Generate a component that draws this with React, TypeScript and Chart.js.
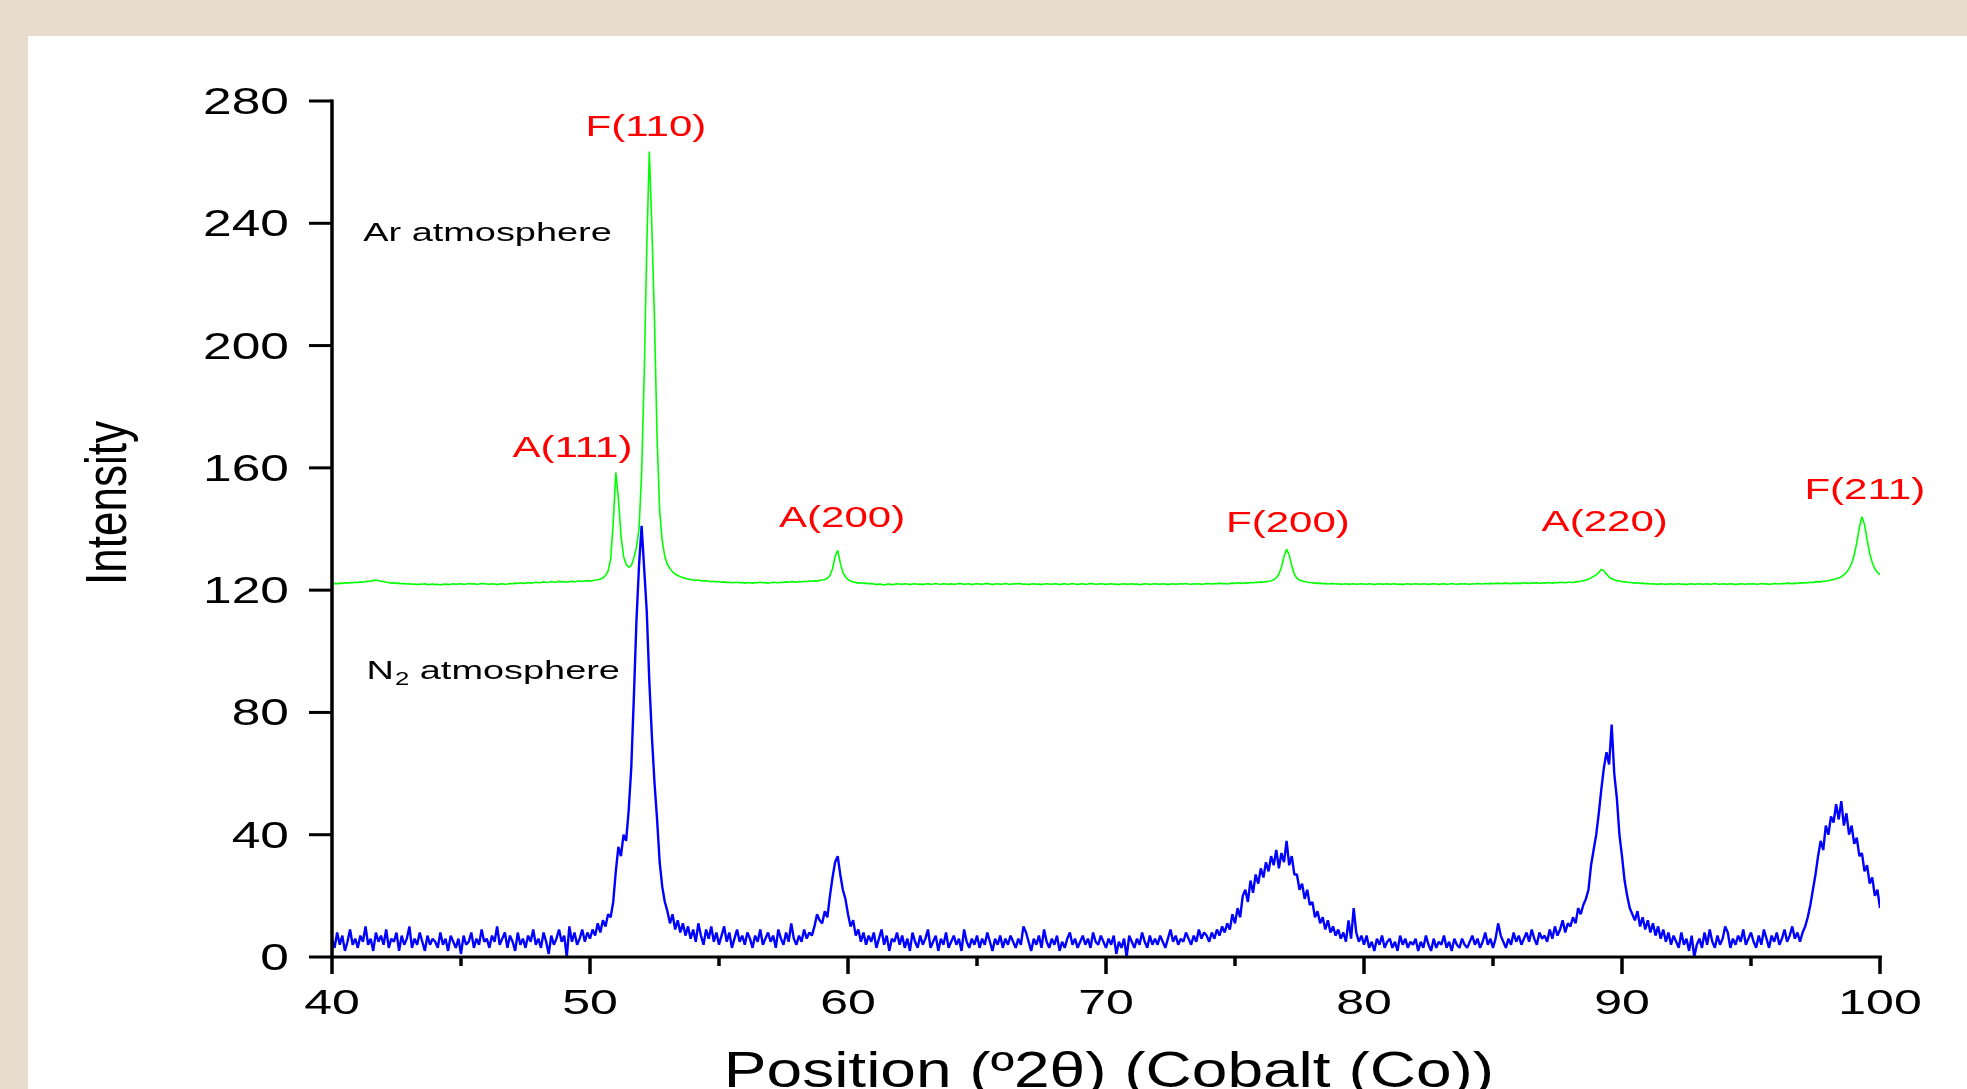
import React, { useEffect, useRef } from 'react';
import { Chart, registerables } from 'chart.js';

Chart.register(...registerables);

// ---- axes ----
const X_MIN = 40;
const X_MAX = 100;
const X_STEP = 0.1;
const Y_MIN = 0;
const Y_MAX = 280;
const xMajorTicks = [40, 50, 60, 70, 80, 90, 100];
const xMinorTicks = [45, 55, 65, 75, 85, 95];
const yTicks = [0, 40, 80, 120, 160, 200, 240, 280];
const xTitle = 'Position (º2θ) (Cobalt (Co))';
const yTitle = 'Intensity';

// ---- Ar atmosphere (green), 2θ = 40.0 ... 100.0, step 0.1 ----
const arSeg40 = [
  122.0, 122.2, 122.1, 122.3, 122.2, 122.4, 122.3, 122.5, 122.4, 122.6,
  122.5, 122.7, 122.6, 122.8, 122.9, 123.0, 123.1, 123.3, 123.1, 122.9,
  122.8, 122.6, 122.5, 122.3, 122.4, 122.2, 122.3, 122.1, 122.2, 122.0,
  122.1, 121.9, 122.0, 121.8, 122.0, 121.9, 122.1, 121.8, 121.9, 122.0,
  121.8, 121.9, 121.7, 121.9, 122.0, 121.8, 121.9, 122.1, 121.9, 122.0,
  122.1, 121.9, 122.0, 122.2, 122.0, 122.1, 121.9, 122.0, 122.2, 122.1,
  122.0, 121.9, 122.1, 122.0, 121.8, 122.0, 122.1, 121.9, 122.0, 122.2,
  122.1, 122.3, 122.2, 122.4, 122.2, 122.3, 122.5, 122.3, 122.4, 122.6,
  122.4, 122.5, 122.7, 122.5, 122.6, 122.8, 122.6, 122.7, 122.9, 122.7,
  122.8, 122.6, 122.8, 122.9, 122.7, 122.9, 123.0, 122.8, 123.0, 123.1,
];
const arSeg50 = [
  123.0, 123.1, 123.3, 123.4, 123.6, 124.0, 124.8, 126.2, 130.0, 142.0,
  158.5, 150.0, 138.0, 131.0, 128.5, 127.5, 128.0, 130.5, 134.0, 140.0,
  158.0, 190.0, 232.0, 263.5, 238.0, 208.0, 170.0, 146.0, 136.0, 131.0,
  128.5, 127.0, 126.0, 125.3, 124.8, 124.4, 124.1, 123.9, 123.6, 123.5,
  123.3, 123.2, 123.3, 123.1, 123.0, 123.1, 122.9, 122.8, 122.9, 122.7,
  122.8, 122.6, 122.7, 122.5, 122.6, 122.4, 122.5, 122.6, 122.4, 122.5,
  122.3, 122.5, 122.4, 122.3, 122.5, 122.4, 122.6, 122.4, 122.5, 122.3,
  122.4, 122.6, 122.5, 122.4, 122.6, 122.5, 122.7, 122.6, 122.8, 122.7,
  122.6, 122.8, 122.7, 122.9, 122.8, 123.0, 122.9, 123.1, 123.0, 123.2,
  123.3, 123.5, 123.9, 124.8, 127.0, 131.0, 133.0, 129.0, 125.8, 124.3,
];
const arSeg60 = [
  123.5, 123.0, 122.7, 122.5, 122.3, 122.4, 122.2, 122.3, 122.1, 122.2,
  122.0, 121.8, 122.0, 121.9, 121.7, 121.9, 122.0, 121.8, 121.9, 122.1,
  122.0, 121.9, 122.1, 122.0, 121.8, 122.0, 122.1, 121.9, 122.0, 121.8,
  122.0, 122.1, 121.9, 122.0, 122.2, 122.0, 121.9, 122.1, 122.0, 121.9,
  122.1, 121.9, 122.0, 122.2, 122.1, 121.9, 122.0, 122.1, 121.8, 122.0,
  122.1, 122.0, 121.9, 122.1, 122.2, 122.0, 121.8, 122.0, 122.1, 121.9,
  122.0, 122.2, 122.0, 121.9, 122.1, 122.0, 122.2, 122.1, 121.9, 122.0,
  121.8, 122.0, 122.1, 121.9, 122.0, 121.8, 122.0, 122.1, 122.0, 121.9,
  122.1, 122.0, 121.8, 122.0, 122.1, 121.9, 122.0, 122.2, 122.0, 121.9,
  122.0, 122.1, 121.9, 122.0, 122.2, 122.1, 121.9, 122.0, 122.1, 122.0,
];
const arSeg70 = [
  121.9, 122.0, 122.1, 121.9, 122.0, 121.8, 122.0, 122.1, 121.9, 122.0,
  122.1, 121.9, 122.0, 121.8, 121.9, 122.1, 122.0, 121.9, 122.0, 122.1,
  122.0, 121.9, 122.1, 122.0, 121.8, 122.0, 122.1, 121.9, 122.0, 122.1,
  122.0, 122.2, 122.0, 121.9, 122.1, 122.0, 122.1, 121.9, 122.0, 122.2,
  122.1, 122.0, 122.2, 122.1, 122.3, 122.1, 122.2, 122.0, 122.2, 122.3,
  122.2, 122.4, 122.3, 122.2, 122.4, 122.3, 122.5, 122.4, 122.6, 122.5,
  122.7, 122.6, 122.8, 122.9, 123.1, 123.4, 124.0, 125.2, 127.5, 131.0,
  133.4, 131.5, 128.0, 125.2, 123.9, 123.3, 123.0, 122.8, 122.6, 122.5,
  122.4, 122.3, 122.2, 122.3, 122.1, 122.2, 122.0, 122.1, 122.2, 122.0,
  122.1, 121.9, 122.0, 122.1, 121.9, 122.0, 122.1, 121.9, 122.0, 122.1,
];
const arSeg80 = [
  122.0, 121.9, 122.1, 122.0, 121.8, 122.0, 122.1, 121.9, 122.0, 122.1,
  121.9, 122.0, 122.1, 121.9, 122.0, 121.8, 122.0, 122.1, 121.9, 122.0,
  122.1, 122.0, 121.9, 122.1, 122.0, 121.9, 122.0, 122.1, 122.0, 121.9,
  122.0, 122.1, 121.9, 122.0, 122.2, 122.0, 121.9, 122.1, 122.0, 122.1,
  122.0, 121.9, 122.1, 122.0, 122.2, 122.1, 122.0, 122.2, 122.1, 122.2,
  122.1, 122.2, 122.3, 122.1, 122.2, 122.3, 122.2, 122.1, 122.3, 122.2,
  122.3, 122.2, 122.4, 122.3, 122.2, 122.4, 122.3, 122.4, 122.2, 122.4,
  122.3, 122.5, 122.4, 122.3, 122.5, 122.4, 122.6, 122.5, 122.4, 122.6,
  122.6, 122.5, 122.7, 122.8, 122.9, 123.1, 123.3, 123.6, 124.0, 124.5,
  125.0, 125.8, 126.8, 126.3, 125.2, 124.3, 123.7, 123.4, 123.1, 123.0,
];
const arSeg90 = [
  122.8, 122.7, 122.6, 122.5, 122.4, 122.3, 122.4, 122.2, 122.3, 122.1,
  122.2, 122.0, 122.1, 122.0, 121.9, 122.1, 122.0, 121.9, 122.0, 122.1,
  121.9, 122.0, 122.1, 121.9, 122.0, 121.8, 122.0, 122.1, 121.9, 122.0,
  122.1, 121.9, 122.0, 122.1, 121.9, 122.0, 122.2, 122.0, 121.9, 122.1,
  122.0, 121.9, 122.1, 122.0, 121.8, 122.0, 122.1, 122.0, 121.9, 122.1,
  122.0, 122.1, 121.9, 122.0, 122.2, 122.0, 122.1, 121.9, 122.0, 122.2,
  122.1, 122.0, 122.2, 122.1, 122.3, 122.2, 122.1, 122.3, 122.2, 122.4,
  122.3, 122.5, 122.4, 122.6, 122.5, 122.7, 122.8, 122.7, 122.9, 123.0,
  123.1, 123.3, 123.5, 123.7, 124.0, 124.4, 125.0, 125.8, 127.0, 128.8,
  131.5, 135.5, 140.5, 144.0, 141.5, 136.5, 132.0, 129.0, 127.0, 125.8,
  125.0,
];

// ---- N2 atmosphere (blue), 2θ = 40.0 ... 100.0, step 0.1 ----
const n2Seg40 = [
  6, 3, 8, 4, 7, 2, 5, 9, 4, 6,
  3, 7, 5, 10, 4, 6, 2, 8, 5, 7,
  4, 9, 3, 6, 5, 8, 2, 7, 4, 6,
  10, 3, 6, 4, 8, 5, 2, 7, 4, 6,
  5, 3, 8, 4, 6, 2, 7, 5, 3, 6,
  1, 7, 4, 5, 8, 3, 6, 4, 9, 5,
  6, 3, 7, 5, 10, 4, 6, 8, 3, 7,
  5, 2, 8, 4, 6, 3, 7, 5, 9, 4,
  6, 3, 8, 5, 1, 7, 4, 6, 9, 5,
  7, 0, 10, 5, 8, 4, 6, 9, 5, 8,
];
const n2Seg50 = [
  6, 9, 7, 11, 8, 12, 10, 14, 13, 18,
  28, 36, 33, 40, 38, 48, 62, 85, 110, 128,
  141, 127, 113, 90, 72, 57, 45, 31, 23, 18,
  15, 11, 14, 9, 12, 8, 11, 7, 10, 6,
  9, 5, 11, 7, 4, 9, 6, 10, 5, 8,
  4, 7, 10, 5, 8, 3, 6, 9, 5, 7,
  4, 8, 6, 3, 7, 5, 9, 4, 6, 8,
  5, 7, 3, 9, 6, 4, 8, 5, 11, 6,
  4, 7, 5, 9, 6, 8, 7, 10, 14, 12,
  11, 15, 13, 20, 26, 31, 33, 27, 22, 19,
];
const n2Seg60 = [
  14, 10, 12, 7, 9, 5, 8, 4, 7, 5,
  8, 3, 6, 9, 4, 7, 2, 6, 5, 8,
  4, 7, 3, 6, 2, 8, 5, 3, 7, 4,
  6, 9, 3, 5, 7, 2, 6, 4, 8, 3,
  5, 7, 4, 6, 2, 9, 5, 3, 6, 4,
  7, 3, 6, 4, 8, 5, 2, 6, 4, 7,
  3, 6, 4, 7, 5, 3, 6, 4, 10, 8,
  5, 2, 6, 4, 7, 3, 9, 5, 3, 6,
  4, 7, 2, 5, 3, 6, 8, 4, 6, 3,
  5, 7, 4, 6, 3, 8, 5, 4, 7, 5,
];
const n2Seg70 = [
  3, 6, 4, 7, 1, 5, 3, 6, 0, 7,
  5, 3, 6, 4, 8, 5, 3, 7, 4, 6,
  4, 7, 5, 3, 6, 9, 5, 7, 4, 6,
  5, 8, 6, 4, 7, 5, 9, 6, 8, 7,
  5, 8, 6, 9, 7, 10, 8, 11, 9, 14,
  11, 16, 13, 20, 22, 18, 25, 21, 27, 24,
  29, 26, 31, 28, 33, 30, 35, 29, 34, 31,
  38, 30, 33, 27, 27, 22, 24, 19, 22, 17,
  18, 13, 15, 11, 13, 9, 12, 8, 10, 7,
  9, 6, 8, 5, 12, 6, 16, 8, 5, 7,
];
const n2Seg80 = [
  4, 7, 3, 5, 2, 6, 4, 7, 3, 5,
  6, 3, 5, 2, 7, 4, 6, 3, 5, 4,
  6, 2, 5, 3, 7, 4, 2, 6, 3, 5,
  4, 7, 3, 5, 2, 6, 4, 3, 6, 4,
  3, 5, 7, 4, 6, 3, 5, 8, 4, 6,
  3, 6, 11, 7, 5, 3, 6, 4, 8, 5,
  7, 4, 6, 8, 5, 9, 6, 4, 8, 6,
  7, 5, 9, 6, 10, 7, 9, 12, 8, 11,
  10, 13, 11, 16, 14, 17, 19, 22, 30, 35,
  40, 47, 55, 62, 67, 63, 76, 60, 52, 40,
];
const n2Seg90 = [
  33, 25, 20, 16, 14, 12, 15, 10, 13, 9,
  12, 8, 11, 7, 10, 6, 9, 5, 8, 4,
  7, 5, 3, 8, 4, 6, 2, 7, 0, 4,
  6, 3, 8, 4, 9, 5, 3, 7, 4, 6,
  10, 8, 3, 6, 4, 7, 5, 9, 4, 6,
  8, 5, 3, 7, 4, 9, 6, 3, 7, 5,
  8, 4, 6, 9, 5, 7, 10, 6, 8, 5,
  8, 10, 13, 17, 22, 27, 33, 38, 35, 43,
  40, 46, 44, 50, 45, 51, 43, 47, 40, 43,
  37, 39, 33, 34, 28, 30, 24, 26, 20, 22,
  16,
];

// ---- text annotations, anchored in data units (2θ, intensity) ----
const peakLabels = [
  { text: 'F(110)', x: 52.17, y: 268.6 },
  { text: 'A(111)', x: 49.32, y: 163.7 },
  { text: 'A(200)', x: 59.77, y: 140.5 },
  { text: 'F(200)', x: 77.05, y: 139.1 },
  { text: 'A(220)', x: 89.33, y: 139.2 },
  { text: 'F(211)', x: 99.41, y: 149.9 },
];
const sampleLabels = [
  { main: 'Ar atmosphere', sub: '', rest: '', x: 41.21, y: 234.3 },
  { main: 'N', sub: '2', rest: ' atmosphere', x: 41.34, y: 90.9 },
];

const arValues = [...arSeg40, ...arSeg50, ...arSeg60, ...arSeg70, ...arSeg80, ...arSeg90];
const n2Values = [...n2Seg40, ...n2Seg50, ...n2Seg60, ...n2Seg70, ...n2Seg80, ...n2Seg90];

const toPoints = (vals: number[]) =>
  vals.map((v, i) => ({ x: Math.round((X_MIN + i * X_STEP) * 10) / 10, y: v }));

const FONT = '"Liberation Sans", Arial, Helvetica, sans-serif';
const SX = 1.43; // horizontal stretch of the original figure's lettering

function wideText(ctx: CanvasRenderingContext2D, text: string, x: number, y: number, size: number, sx: number, align: CanvasTextAlign, color: string) {
  ctx.save();
  ctx.font = `${size}px ${FONT}`;
  ctx.fillStyle = color;
  ctx.textAlign = align;
  ctx.textBaseline = 'alphabetic';
  ctx.translate(x, y);
  ctx.scale(sx, 1);
  ctx.fillText(text, 0, 0);
  const w = ctx.measureText(text).width * sx;
  ctx.restore();
  return w;
}

const overlayPlugin = {
  id: 'xrdOverlay',
  afterDraw(chart: any) {
    const { ctx, scales, chartArea } = chart;
    const xs = scales.x;
    const ys = scales.y;
    const x0 = xs.getPixelForValue(X_MIN);
    const x1 = xs.getPixelForValue(X_MAX);
    const y0 = ys.getPixelForValue(Y_MIN);
    const yTop = ys.getPixelForValue(Y_MAX);

    ctx.save();
    ctx.strokeStyle = '#000';
    ctx.lineCap = 'butt';

    // y axis line + ticks
    ctx.lineWidth = 3.5;
    ctx.beginPath();
    ctx.moveTo(x0, yTop - 1.5);
    ctx.lineTo(x0, y0 + 1.5);
    ctx.stroke();
    ctx.lineWidth = 3;
    yTicks.forEach((v) => {
      const py = ys.getPixelForValue(v);
      ctx.beginPath();
      ctx.moveTo(x0 - 23, py);
      ctx.lineTo(x0, py);
      ctx.stroke();
      wideText(ctx, String(v), x0 - 43, py + 13, 36, SX, 'right', '#000');
    });

    // x axis line + ticks
    ctx.lineWidth = 3;
    ctx.beginPath();
    ctx.moveTo(x0 - 1.5, y0);
    ctx.lineTo(x1 + 2, y0);
    ctx.stroke();
    ctx.lineWidth = 3.5;
    xMajorTicks.forEach((v) => {
      const px = xs.getPixelForValue(v);
      ctx.beginPath();
      ctx.moveTo(px, y0);
      ctx.lineTo(px, y0 + 17);
      ctx.stroke();
      wideText(ctx, String(v), px, y0 + 57, 35, SX, 'center', '#000');
    });
    xMinorTicks.forEach((v) => {
      const px = xs.getPixelForValue(v);
      ctx.beginPath();
      ctx.moveTo(px, y0);
      ctx.lineTo(px, y0 + 9);
      ctx.stroke();
    });

    // axis titles
    const cx = (chartArea.left + chartArea.right) / 2 + 3;
    wideText(ctx, xTitle, cx, y0 + 130, 50, 1.28, 'center', '#000');

    ctx.save();
    ctx.font = `44px ${FONT}`;
    ctx.fillStyle = '#000';
    ctx.textAlign = 'center';
    ctx.textBaseline = 'alphabetic';
    ctx.translate(x0 - 206, (chartArea.top + chartArea.bottom) / 2 - 26);
    ctx.rotate(-Math.PI / 2);
    ctx.scale(1, 1.3);
    ctx.fillText(yTitle, 0, 0);
    ctx.restore();

    // peak labels
    peakLabels.forEach((l) => {
      wideText(ctx, l.text, xs.getPixelForValue(l.x), ys.getPixelForValue(l.y), 29, 1.45, 'center', '#ff0000');
    });

    // sample labels
    sampleLabels.forEach((l) => {
      let px = xs.getPixelForValue(l.x);
      const py = ys.getPixelForValue(l.y);
      px += wideText(ctx, l.main, px, py, 26.5, SX, 'left', '#000');
      if (l.sub) {
        px += wideText(ctx, l.sub, px + 1, py + 6, 18, SX, 'left', '#000') + 1;
      }
      if (l.rest) {
        wideText(ctx, l.rest, px, py, 26.5, SX, 'left', '#000');
      }
    });

    ctx.restore();
  },
};

export default function App() {
  const canvasRef = useRef<HTMLCanvasElement | null>(null);

  useEffect(() => {
    const canvas = canvasRef.current;
    if (!canvas) return;
    const chart = new Chart(canvas, {
      type: 'line',
      data: {
        datasets: [
          {
            label: 'N2 atmosphere',
            data: toPoints(n2Values),
            borderColor: '#0000ff',
            borderWidth: 2.4,
            pointRadius: 0,
            tension: 0,
            borderJoinStyle: 'bevel',
            fill: false,
          },
          {
            label: 'Ar atmosphere',
            data: toPoints(arValues),
            borderColor: '#00ff00',
            borderWidth: 1.6,
            pointRadius: 0,
            tension: 0,
            borderJoinStyle: 'bevel',
            fill: false,
          },
        ],
      },
      options: {
        animation: false,
        responsive: false,
        devicePixelRatio: 1,
        parsing: false,
        normalized: true,
        events: [],
        layout: { padding: { left: 332, right: 87, top: 101, bottom: 132 } },
        plugins: {
          legend: { display: false },
          tooltip: { enabled: false },
          title: { display: false },
        },
        scales: {
          x: { type: 'linear', min: X_MIN, max: X_MAX, display: false },
          y: { type: 'linear', min: Y_MIN, max: Y_MAX, display: false },
        },
      },
      plugins: [overlayPlugin],
    } as any);
    return () => chart.destroy();
  }, []);

  return (
    <div
      style={{
        position: 'fixed',
        left: 0,
        top: 0,
        width: 1967,
        height: 1089,
        overflow: 'hidden',
        background: '#e8dccc',
      }}
    >
      <div
        style={{
          position: 'absolute',
          left: 28,
          top: 36,
          right: 0,
          bottom: 0,
          background: '#ffffff',
        }}
      />
      <canvas
        ref={canvasRef}
        width={1967}
        height={1089}
        style={{ position: 'absolute', left: 0, top: 0, width: 1967, height: 1089 }}
      />
    </div>
  );
}
